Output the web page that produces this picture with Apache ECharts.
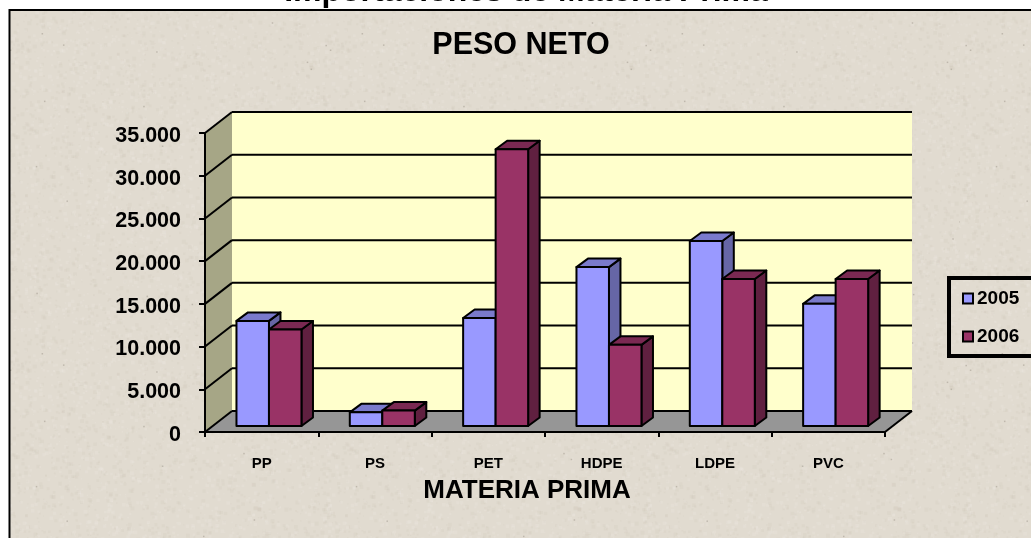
<!DOCTYPE html>
<html><head><meta charset="utf-8">
<style>html,body{margin:0;padding:0;background:#fff}#c{width:1031px;height:538px}</style>
<script src="https://cdn.jsdelivr.net/npm/echarts@6/dist/echarts.min.js"></script>
</head><body><div id="c"></div>
<script>
const categories = ['PP','PS','PET','HDPE','LDPE','PVC'];
const values2005 = [12300,1600,12650,18600,21650,14300];
const values2006 = [11300,1800,32400,9500,17200,17200];
const yTicks = [0,5000,10000,15000,20000,25000,30000,35000];
const seriesNames = ['2005','2006'];

const FONT = '"Liberation Sans", Arial, sans-serif';
const DEPTH = {x:27, y:-21};           // full floor depth
const BAR_DEPTH = {x:11.5, y:-8.5};    // depth of a bar
const BAR_INSET = {x:7.3, y:-6};       // bar front plane relative to axis plane
const BAR_WIDTH = 32.5;
const PALETTE = {
  '2005': {front:'#9999ff', top:'#7a7acc', side:'#6666a6'},
  '2006': {front:'#993366', top:'#7a2952', side:'#602040'}
};

function texture(){
  const size = 320, cv = document.createElement('canvas');
  cv.width = cv.height = size;
  const g = cv.getContext('2d');
  g.fillStyle = '#e1dbd0'; g.fillRect(0,0,size,size);
  let s = 12345;
  const next = () => (s = (s*1103515245 + 12345) & 0x7fffffff) / 0x7fffffff;
  for (let i=0;i<4000;i++){
    const light = next() > 0.5, r = 1 + next()*3;
    g.fillStyle = light ? 'rgba(240,236,228,0.2)' : 'rgba(195,187,173,0.12)';
    g.fillRect(next()*size, next()*size, r, r);
  }
  for (let i=0;i<25;i++){
    g.fillStyle = 'rgba(140,132,120,0.4)';
    g.fillRect(next()*size, next()*size, 1.5, 1.5);
  }
  return cv;
}

function poly(points, fill, lw){
  return {type:'polygon', shape:{points}, style:{fill, stroke:'#000', lineWidth:lw===undefined?2:lw, lineJoin:'round'}};
}
function line(a,b,lw){
  return {type:'line', shape:{x1:a[0],y1:a[1],x2:b[0],y2:b[1]}, style:{stroke:'#000', lineWidth:lw||2}};
}

function renderWalls(params, api){
  const a = api.coord([0,0]), step = api.size([1,0])[0];
  const x0 = a[0]-step/2, x1 = x0+step*categories.length, y0 = api.coord([0,0])[1];
  const yTop = api.coord([0,yTicks[yTicks.length-1]])[1];
  const dx = DEPTH.x, dy = DEPTH.y;
  const kids = [
    poly([[x0+dx,yTop+dy],[x1+dx,yTop+dy],[x1+dx,y0+dy],[x0+dx,y0+dy]],'#ffffcc',0),
    poly([[x0,yTop],[x0+dx,yTop+dy],[x0+dx,y0+dy],[x0,y0]],'#a6a686',0),
    poly([[x0,y0],[x0+dx,y0+dy],[x1+dx,y0+dy],[x1,y0]],'#969696',0)
  ];
  yTicks.forEach(v=>{
    const y = api.coord([0,v])[1];
    kids.push(line([x0,y],[x0+dx,y+dy]));
    kids.push(line([x0+dx,y+dy],[x1+dx,y+dy]));
  });
  kids.push(line([x1,y0],[x1+dx,y0+dy]));
  return {type:'group', children:kids};
}

function makeBarRenderer(name, seriesIdx){
  const c = PALETTE[name];
  return function(params, api){
    const base = api.coord([api.value(0),0]);
    const top = api.coord([api.value(0),api.value(1)]);
    const xl = base[0] + BAR_INSET.x + (seriesIdx-1)*BAR_WIDTH, xr = xl + BAR_WIDTH;
    const yb = base[1] + BAR_INSET.y, yt = top[1] + BAR_INSET.y;
    const dx = BAR_DEPTH.x, dy = BAR_DEPTH.y;
    return {type:'group', children:[
      poly([[xr,yt],[xr+dx,yt+dy],[xr+dx,yb+dy],[xr,yb]], c.side),
      poly([[xl,yt],[xl+dx,yt+dy],[xr+dx,yt+dy],[xr,yt]], c.top),
      poly([[xl,yt],[xr,yt],[xr,yb],[xl,yb]], c.front)
    ]};
  };
}

const chart = echarts.init(document.getElementById('c'), null, {renderer:'canvas'});
const labelColor = '#000';
chart.setOption({
  animation:false,
  backgroundColor:'#ffffff',
  color:[PALETTE['2005'].front, PALETTE['2006'].front],
  textStyle:{fontFamily:FONT},
  graphic:[{
    type:'rect', z:-1, silent:true,
    shape:{x:9.5,y:10,width:1040,height:550},
    style:{fill:{image:texture(),repeat:'repeat'}, stroke:'#000', lineWidth:2}
  }],
  title:[
    {text:'Importaciones de Materia Prima', left:521, top:-29, textAlign:'center',
     textStyle:{fontFamily:FONT,fontWeight:'bold',fontSize:32,color:labelColor}},
    {text:'PESO NETO', left:516, top:25, textAlign:'center',
     textStyle:{fontFamily:FONT,fontWeight:'bold',fontSize:30.5,color:labelColor}},
    {text:'MATERIA PRIMA', left:522, top:473, textAlign:'center',
     textStyle:{fontFamily:FONT,fontWeight:'bold',fontSize:26,color:labelColor}}
  ],
  legend:{
    data:seriesNames, orient:'vertical', left:949, top:278, icon:'rect',
    itemWidth:10, itemHeight:10, itemGap:19, align:'left',
    padding:[11,40,10,13],
    borderColor:'#000', borderWidth:4, selectedMode:false,
    itemStyle:{borderColor:'#000',borderWidth:2},
    textStyle:{fontFamily:FONT,fontWeight:'bold',fontSize:19,color:labelColor,padding:[0,0,0,-1]}
  },
  grid:{left:205,top:133,width:680,height:299,containLabel:false},
  xAxis:{
    type:'category', data:categories, z:6,
    axisLine:{lineStyle:{color:'#000',width:2}},
    axisTick:{show:true,length:5,lineStyle:{color:'#000',width:2},alignWithLabel:false},
    axisLabel:{fontFamily:FONT,fontWeight:'bold',fontSize:15,color:labelColor,margin:24,interval:0},
    splitLine:{show:false}
  },
  yAxis:{
    type:'value', min:0, max:35000, interval:5000, z:6,
    axisLine:{show:true,lineStyle:{color:'#000',width:2}},
    axisTick:{show:true,length:6,lineStyle:{color:'#000',width:2}},
    axisLabel:{fontFamily:FONT,fontWeight:'bold',fontSize:21.5,color:labelColor,margin:24,
      verticalAlign:'top',lineHeight:6,
      formatter:v=>String(v).replace(/\B(?=(\d{3})+$)/g,'.')},
    splitLine:{show:false}
  },
  series:[
    {name:'walls', type:'custom', coordinateSystem:'cartesian2d', z:1, silent:true,
     renderItem:renderWalls, data:[[0,0]], encode:{x:0,y:1}},
    {name:'2005', type:'custom', coordinateSystem:'cartesian2d', z:2, silent:true,
     itemStyle:{color:PALETTE['2005'].front},
     renderItem:makeBarRenderer('2005',0), encode:{x:0,y:1},
     data:values2005.map((v,i)=>[i,v])},
    {name:'2006', type:'custom', coordinateSystem:'cartesian2d', z:3, silent:true,
     itemStyle:{color:PALETTE['2006'].front},
     renderItem:makeBarRenderer('2006',1), encode:{x:0,y:1},
     data:values2006.map((v,i)=>[i,v])}
  ]
});
</script></body></html>
